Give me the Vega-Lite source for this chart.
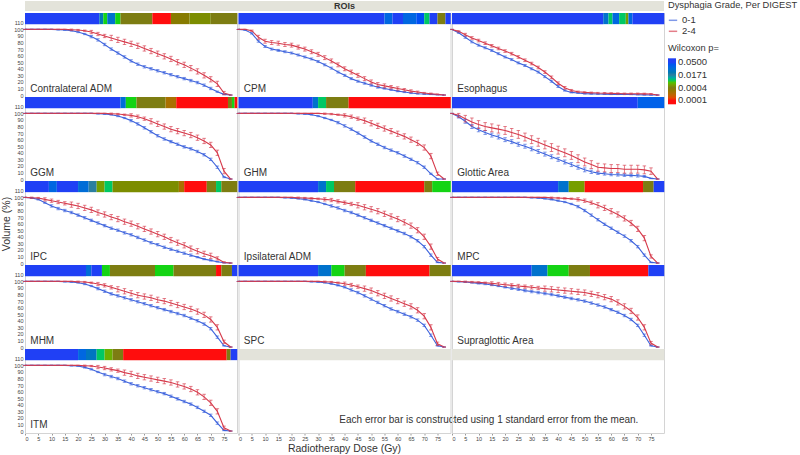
{
 "$schema": "https://vega.github.io/schema/vega-lite/v6.json",
 "padding": {"left": 0, "top": 1, "right": 0, "bottom": 0},
 "config": {
  "font": "Liberation Sans",
  "view": {"stroke": "#d4d4d4"},
  "axis": {"labelFontSize": 5.5, "labelColor": "#444", "labelOverlap": false, "titleFontSize": 10.5, "titleFontWeight": "normal", "titleColor": "#333", "grid": false, "domain": false, "tickColor": "#999", "tickSize": 2},
  "axisX": {"tickCount": 16},
  "axisY": {"tickCount": 12, "ticks": false},
  "legend": {"titleFontSize": 9.3, "titleFontWeight": "normal", "titleColor": "#333", "labelFontSize": 9.5, "labelColor": "#333", "padding": 0, "offset": 3, "labelOverlap": false, "titleLimit": 200, "rowPadding": 1},
  "header": {"labels": false, "title": null, "labelFontSize": 0, "labelPadding": 0},
  "headerFacet": {"labels": false, "title": null, "labelFontSize": 0, "labelPadding": 0},
  "headerColumn": {"labels": false, "title": null, "labelFontSize": 0, "labelPadding": 0}
 },
 "datasets": {
  "main": [
   {"r":"Contralateral ADM","x0":0,"x1":28,"s":3},{"r":"Contralateral ADM","x0":28,"x1":29.5,"s":2.2},{"r":"Contralateral ADM","x0":29.5,"x1":31,"s":1.5},{"r":"Contralateral ADM","x0":31,"x1":34,"s":2.4},{"r":"Contralateral ADM","x0":34,"x1":36,"s":1.5},{"r":"Contralateral ADM","x0":36,"x1":48,"s":1},{"r":"Contralateral ADM","x0":48,"x1":55,"s":0},{"r":"Contralateral ADM","x0":55,"x1":62,"s":0.9},{"r":"Contralateral ADM","x0":62,"x1":70,"s":1.1},{"r":"Contralateral ADM","x0":70,"x1":80,"s":1},
   {"r":"CPM","x0":0,"x1":55,"s":3},{"r":"CPM","x0":55,"x1":58,"s":2.6},{"r":"CPM","x0":58,"x1":62,"s":3},{"r":"CPM","x0":62,"x1":67,"s":2.6},{"r":"CPM","x0":67,"x1":70,"s":2.9},{"r":"CPM","x0":70,"x1":72,"s":1.6},{"r":"CPM","x0":72,"x1":75,"s":3},{"r":"CPM","x0":75,"x1":78,"s":1},{"r":"CPM","x0":78,"x1":80,"s":3},
   {"r":"Esophagus","x0":0,"x1":57,"s":3},{"r":"Esophagus","x0":57,"x1":59,"s":2.4},{"r":"Esophagus","x0":59,"x1":60.5,"s":1.6},{"r":"Esophagus","x0":60.5,"x1":63,"s":2.6},{"r":"Esophagus","x0":63,"x1":65.5,"s":1.6},{"r":"Esophagus","x0":65.5,"x1":66.5,"s":1.2},{"r":"Esophagus","x0":66.5,"x1":68,"s":2.6},{"r":"Esophagus","x0":68,"x1":80,"s":3},
   {"r":"GGM","x0":0,"x1":36,"s":3},{"r":"GGM","x0":36,"x1":38,"s":2.5},{"r":"GGM","x0":38,"x1":42,"s":1.5},{"r":"GGM","x0":42,"x1":53,"s":1},{"r":"GGM","x0":53,"x1":57,"s":0.6},{"r":"GGM","x0":57,"x1":76.5,"s":0},{"r":"GGM","x0":76.5,"x1":78,"s":1},{"r":"GGM","x0":78,"x1":79,"s":1.5},{"r":"GGM","x0":79,"x1":80,"s":0},
   {"r":"GHM","x0":0,"x1":28,"s":3},{"r":"GHM","x0":28,"x1":30,"s":2.4},{"r":"GHM","x0":30,"x1":33,"s":1.6},{"r":"GHM","x0":33,"x1":41.5,"s":1},{"r":"GHM","x0":41.5,"x1":80,"s":0},
   {"r":"Glottic Area","x0":0,"x1":70,"s":3},{"r":"Glottic Area","x0":70,"x1":80,"s":2.7},
   {"r":"IPC","x0":0,"x1":9,"s":3},{"r":"IPC","x0":9,"x1":12,"s":2.6},{"r":"IPC","x0":12,"x1":20,"s":3},{"r":"IPC","x0":20,"x1":24,"s":2.5},{"r":"IPC","x0":24,"x1":27,"s":2},{"r":"IPC","x0":27,"x1":30,"s":1.2},{"r":"IPC","x0":30,"x1":33,"s":1.6},{"r":"IPC","x0":33,"x1":58,"s":1.1},{"r":"IPC","x0":58,"x1":60,"s":0.6},{"r":"IPC","x0":60,"x1":68.5,"s":0},{"r":"IPC","x0":68.5,"x1":72,"s":1},{"r":"IPC","x0":72,"x1":74,"s":1.6},{"r":"IPC","x0":74,"x1":80,"s":1},
   {"r":"Ipsilateral ADM","x0":0,"x1":30,"s":3},{"r":"Ipsilateral ADM","x0":30,"x1":33,"s":2.4},{"r":"Ipsilateral ADM","x0":33,"x1":36,"s":1.6},{"r":"Ipsilateral ADM","x0":36,"x1":44,"s":1},{"r":"Ipsilateral ADM","x0":44,"x1":70,"s":0},{"r":"Ipsilateral ADM","x0":70,"x1":73,"s":1},{"r":"Ipsilateral ADM","x0":73,"x1":80,"s":1.5},
   {"r":"MPC","x0":0,"x1":40,"s":3},{"r":"MPC","x0":40,"x1":44,"s":2.4},{"r":"MPC","x0":44,"x1":50,"s":1.2},{"r":"MPC","x0":50,"x1":72,"s":0},{"r":"MPC","x0":72,"x1":76,"s":1},{"r":"MPC","x0":76,"x1":80,"s":3},
   {"r":"MHM","x0":0,"x1":23,"s":3},{"r":"MHM","x0":23,"x1":25,"s":2.5},{"r":"MHM","x0":25,"x1":29,"s":3},{"r":"MHM","x0":29,"x1":32,"s":1.5},{"r":"MHM","x0":32,"x1":49,"s":1},{"r":"MHM","x0":49,"x1":56,"s":1.5},{"r":"MHM","x0":56,"x1":72,"s":1},{"r":"MHM","x0":72,"x1":74,"s":0},{"r":"MHM","x0":74,"x1":78,"s":1},{"r":"MHM","x0":78,"x1":80,"s":3},
   {"r":"SPC","x0":0,"x1":30,"s":3},{"r":"SPC","x0":30,"x1":35,"s":2.4},{"r":"SPC","x0":35,"x1":40,"s":1.5},{"r":"SPC","x0":40,"x1":48,"s":1},{"r":"SPC","x0":48,"x1":72,"s":0},{"r":"SPC","x0":72,"x1":80,"s":1},
   {"r":"Supraglottic Area","x0":0,"x1":30,"s":3},{"r":"Supraglottic Area","x0":30,"x1":36,"s":2.4},{"r":"Supraglottic Area","x0":36,"x1":44,"s":1.5},{"r":"Supraglottic Area","x0":44,"x1":52,"s":1},{"r":"Supraglottic Area","x0":52,"x1":74,"s":0},{"r":"Supraglottic Area","x0":74,"x1":80,"s":3},
   {"r":"ITM","x0":0,"x1":20,"s":3},{"r":"ITM","x0":20,"x1":23,"s":2.6},{"r":"ITM","x0":23,"x1":27,"s":2.3},{"r":"ITM","x0":27,"x1":30,"s":1.6},{"r":"ITM","x0":30,"x1":33,"s":1.3},{"r":"ITM","x0":33,"x1":37,"s":1},{"r":"ITM","x0":37,"x1":76,"s":0},{"r":"ITM","x0":76,"x1":77.5,"s":1},{"r":"ITM","x0":77.5,"x1":80,"s":3},
   {"r":"_x","g":1},{"r":"_y","g":1},
   {"r":"_x","t":"Each error bar is constructed using 1 standard error from the mean."},

   {"r":"Contralateral ADM","d":0,"a":100,"sa":0,"b":100,"sb":0},{"r":"Contralateral ADM","d":2.5,"a":100,"sa":0,"b":100,"sb":0},{"r":"Contralateral ADM","d":5,"a":100,"sa":0,"b":100,"sb":0},{"r":"Contralateral ADM","d":7.5,"a":100,"sa":0,"b":100,"sb":0},{"r":"Contralateral ADM","d":10,"a":100,"sa":0,"b":100,"sb":0},{"r":"Contralateral ADM","d":12.5,"a":99.5,"sa":0.5,"b":100,"sb":0},{"r":"Contralateral ADM","d":15,"a":99,"sa":0.5,"b":100,"sb":0},{"r":"Contralateral ADM","d":17.5,"a":98,"sa":0.5,"b":99.5,"sb":1},{"r":"Contralateral ADM","d":20,"a":96,"sa":1,"b":99,"sb":1},{"r":"Contralateral ADM","d":22.5,"a":93,"sa":1,"b":98,"sb":1},{"r":"Contralateral ADM","d":25,"a":89,"sa":1.8,"b":96,"sb":2.5},{"r":"Contralateral ADM","d":27.5,"a":84,"sa":1.8,"b":93,"sb":2.5},{"r":"Contralateral ADM","d":30,"a":77,"sa":1.8,"b":90,"sb":2.5},{"r":"Contralateral ADM","d":32.5,"a":70,"sa":1.8,"b":87,"sb":4},{"r":"Contralateral ADM","d":35,"a":64,"sa":1.8,"b":84,"sb":4},{"r":"Contralateral ADM","d":37.5,"a":58,"sa":1.8,"b":81,"sb":4},{"r":"Contralateral ADM","d":40,"a":52,"sa":1.8,"b":78,"sb":4},{"r":"Contralateral ADM","d":42.5,"a":47,"sa":1.8,"b":75,"sb":4},{"r":"Contralateral ADM","d":45,"a":43,"sa":1.8,"b":71,"sb":4},{"r":"Contralateral ADM","d":47.5,"a":40,"sa":1.8,"b":67,"sb":4},{"r":"Contralateral ADM","d":50,"a":37,"sa":1.8,"b":63,"sb":4},{"r":"Contralateral ADM","d":52.5,"a":34,"sa":1.8,"b":59,"sb":4},{"r":"Contralateral ADM","d":55,"a":31,"sa":1.8,"b":55,"sb":4},{"r":"Contralateral ADM","d":57.5,"a":28,"sa":1.8,"b":50,"sb":4},{"r":"Contralateral ADM","d":60,"a":25,"sa":1.8,"b":46,"sb":4},{"r":"Contralateral ADM","d":62.5,"a":22,"sa":1.8,"b":41,"sb":4},{"r":"Contralateral ADM","d":65,"a":19,"sa":1.8,"b":36,"sb":4},{"r":"Contralateral ADM","d":67.5,"a":15,"sa":1.8,"b":30,"sb":4},{"r":"Contralateral ADM","d":70,"a":10,"sa":1.8,"b":24,"sb":4},{"r":"Contralateral ADM","d":72.5,"a":5,"sa":1,"b":17,"sb":4},{"r":"Contralateral ADM","d":75,"a":1,"sa":0.5,"b":3,"sb":2.5},{"r":"Contralateral ADM","d":77.5,"a":0,"sa":0,"b":0,"sb":0},

   {"r":"CPM","d":0,"a":100,"sa":0,"b":100,"sb":0},{"r":"CPM","d":2.5,"a":99,"sa":0.5,"b":100,"sb":0},{"r":"CPM","d":5,"a":94,"sa":1,"b":98,"sb":1},{"r":"CPM","d":7.5,"a":82,"sa":1.5,"b":88,"sb":3},{"r":"CPM","d":10,"a":74,"sa":1.5,"b":82,"sb":3},{"r":"CPM","d":12.5,"a":70,"sa":1.5,"b":80,"sb":3},{"r":"CPM","d":15,"a":68,"sa":1.5,"b":79,"sb":3},{"r":"CPM","d":17.5,"a":66,"sa":1.5,"b":77,"sb":3},{"r":"CPM","d":20,"a":64,"sa":1.5,"b":76,"sb":3},{"r":"CPM","d":22.5,"a":61,"sa":1.5,"b":73,"sb":3},{"r":"CPM","d":25,"a":58,"sa":1.5,"b":70,"sb":3},{"r":"CPM","d":27.5,"a":55,"sa":1.5,"b":66,"sb":3},{"r":"CPM","d":30,"a":51,"sa":1.5,"b":62,"sb":3},{"r":"CPM","d":32.5,"a":46,"sa":1.5,"b":57,"sb":3},{"r":"CPM","d":35,"a":41,"sa":1.5,"b":52,"sb":3},{"r":"CPM","d":37.5,"a":35,"sa":1.5,"b":46,"sb":3},{"r":"CPM","d":40,"a":30,"sa":1.5,"b":40,"sb":3},{"r":"CPM","d":42.5,"a":25,"sa":1.5,"b":35,"sb":3},{"r":"CPM","d":45,"a":21,"sa":1.5,"b":30,"sb":3},{"r":"CPM","d":47.5,"a":18,"sa":1.5,"b":25,"sb":3},{"r":"CPM","d":50,"a":15,"sa":1.5,"b":20,"sb":3},{"r":"CPM","d":52.5,"a":12,"sa":1.5,"b":16,"sb":3},{"r":"CPM","d":55,"a":10,"sa":1,"b":14,"sb":3},{"r":"CPM","d":57.5,"a":8,"sa":1,"b":12,"sb":2.5},{"r":"CPM","d":60,"a":6,"sa":1,"b":10,"sb":2.5},{"r":"CPM","d":62.5,"a":4.5,"sa":0.8,"b":8,"sb":2},{"r":"CPM","d":65,"a":3,"sa":0.8,"b":6,"sb":2},{"r":"CPM","d":67.5,"a":2,"sa":0.5,"b":4.5,"sb":1.5},{"r":"CPM","d":70,"a":1.5,"sa":0.5,"b":3,"sb":1},{"r":"CPM","d":72.5,"a":1,"sa":0.3,"b":2,"sb":1},{"r":"CPM","d":75,"a":0.5,"sa":0.2,"b":1,"sb":0.5},{"r":"CPM","d":77.5,"a":0,"sa":0,"b":0,"sb":0},

   {"r":"Esophagus","d":0,"a":100,"sa":0,"b":100,"sb":0},{"r":"Esophagus","d":2.5,"a":95,"sa":1,"b":97,"sb":1},{"r":"Esophagus","d":5,"a":88,"sa":1.5,"b":92,"sb":2},{"r":"Esophagus","d":7.5,"a":81,"sa":1.5,"b":87,"sb":2},{"r":"Esophagus","d":10,"a":76,"sa":1.5,"b":83,"sb":2},{"r":"Esophagus","d":12.5,"a":72,"sa":1.5,"b":79,"sb":2},{"r":"Esophagus","d":15,"a":68,"sa":1.5,"b":75,"sb":2},{"r":"Esophagus","d":17.5,"a":63,"sa":1.5,"b":71,"sb":2},{"r":"Esophagus","d":20,"a":58,"sa":1.5,"b":67,"sb":2},{"r":"Esophagus","d":22.5,"a":54,"sa":1.5,"b":63,"sb":2},{"r":"Esophagus","d":25,"a":49,"sa":1.5,"b":58,"sb":2},{"r":"Esophagus","d":27.5,"a":45,"sa":1.5,"b":53,"sb":2},{"r":"Esophagus","d":30,"a":40,"sa":1.5,"b":48,"sb":2},{"r":"Esophagus","d":32.5,"a":35,"sa":1.5,"b":42,"sb":2},{"r":"Esophagus","d":35,"a":28,"sa":1.5,"b":35,"sb":2},{"r":"Esophagus","d":37.5,"a":21,"sa":1.5,"b":27,"sb":2},{"r":"Esophagus","d":40,"a":13,"sa":1.5,"b":18,"sb":2},{"r":"Esophagus","d":42.5,"a":7,"sa":1,"b":11,"sb":2},{"r":"Esophagus","d":45,"a":4,"sa":0.8,"b":7,"sb":1.5},{"r":"Esophagus","d":47.5,"a":3,"sa":0.5,"b":5,"sb":1},{"r":"Esophagus","d":50,"a":2,"sa":0.5,"b":4,"sb":1},{"r":"Esophagus","d":52.5,"a":1.8,"sa":0.4,"b":3.5,"sb":1},{"r":"Esophagus","d":55,"a":1.5,"sa":0.4,"b":3,"sb":1},{"r":"Esophagus","d":57.5,"a":1.3,"sa":0.3,"b":2.8,"sb":1},{"r":"Esophagus","d":60,"a":1,"sa":0.3,"b":2.5,"sb":1},{"r":"Esophagus","d":62.5,"a":1,"sa":0.3,"b":2.3,"sb":1},{"r":"Esophagus","d":65,"a":1,"sa":0.3,"b":2,"sb":1},{"r":"Esophagus","d":67.5,"a":0.8,"sa":0.3,"b":2,"sb":1},{"r":"Esophagus","d":70,"a":0.5,"sa":0.2,"b":2,"sb":1},{"r":"Esophagus","d":72.5,"a":0.3,"sa":0.2,"b":1.8,"sb":1},{"r":"Esophagus","d":75,"a":0,"sa":0,"b":1.5,"sb":0.8},{"r":"Esophagus","d":77.5,"a":0,"sa":0,"b":0,"sb":0},

   {"r":"GGM","d":0,"a":100,"sa":0,"b":100,"sb":0},{"r":"GGM","d":2.5,"a":100,"sa":0,"b":100,"sb":0},{"r":"GGM","d":5,"a":100,"sa":0,"b":100,"sb":0},{"r":"GGM","d":7.5,"a":100,"sa":0,"b":100,"sb":0},{"r":"GGM","d":10,"a":100,"sa":0,"b":100,"sb":0},{"r":"GGM","d":12.5,"a":100,"sa":0,"b":100,"sb":0},{"r":"GGM","d":15,"a":100,"sa":0,"b":100,"sb":0},{"r":"GGM","d":17.5,"a":100,"sa":0,"b":100,"sb":0},{"r":"GGM","d":20,"a":100,"sa":0,"b":100,"sb":0},{"r":"GGM","d":22.5,"a":100,"sa":0,"b":100,"sb":0},{"r":"GGM","d":25,"a":100,"sa":0,"b":100,"sb":0},{"r":"GGM","d":27.5,"a":99.5,"sa":0.5,"b":100,"sb":0},{"r":"GGM","d":30,"a":99,"sa":0.5,"b":100,"sb":0},{"r":"GGM","d":32.5,"a":98,"sa":0.5,"b":99.5,"sb":1},{"r":"GGM","d":35,"a":96,"sa":1,"b":99,"sb":1},{"r":"GGM","d":37.5,"a":93,"sa":1,"b":98,"sb":1},{"r":"GGM","d":40,"a":89,"sa":1.8,"b":97,"sb":2.5},{"r":"GGM","d":42.5,"a":84,"sa":1.8,"b":95,"sb":2.5},{"r":"GGM","d":45,"a":78,"sa":1.8,"b":92,"sb":2.5},{"r":"GGM","d":47.5,"a":72,"sa":1.8,"b":88,"sb":4},{"r":"GGM","d":50,"a":66,"sa":1.8,"b":84,"sb":4},{"r":"GGM","d":52.5,"a":61,"sa":1.8,"b":80,"sb":4},{"r":"GGM","d":55,"a":57,"sa":1.8,"b":76,"sb":4},{"r":"GGM","d":57.5,"a":53,"sa":1.8,"b":73,"sb":4},{"r":"GGM","d":60,"a":49,"sa":1.8,"b":70,"sb":4},{"r":"GGM","d":62.5,"a":46,"sa":1.8,"b":67,"sb":4},{"r":"GGM","d":65,"a":42,"sa":1.8,"b":63,"sb":4},{"r":"GGM","d":67.5,"a":37,"sa":1.8,"b":58,"sb":4},{"r":"GGM","d":70,"a":30,"sa":1.8,"b":52,"sb":4},{"r":"GGM","d":72.5,"a":18,"sa":1.8,"b":40,"sb":4},{"r":"GGM","d":75,"a":3,"sa":1,"b":12,"sb":4},{"r":"GGM","d":77.5,"a":0,"sa":0,"b":0,"sb":0},

   {"r":"GHM","d":0,"a":100,"sa":0,"b":100,"sb":0},{"r":"GHM","d":2.5,"a":100,"sa":0,"b":100,"sb":0},{"r":"GHM","d":5,"a":100,"sa":0,"b":100,"sb":0},{"r":"GHM","d":7.5,"a":100,"sa":0,"b":100,"sb":0},{"r":"GHM","d":10,"a":100,"sa":0,"b":100,"sb":0},{"r":"GHM","d":12.5,"a":100,"sa":0,"b":100,"sb":0},{"r":"GHM","d":15,"a":100,"sa":0,"b":100,"sb":0},{"r":"GHM","d":17.5,"a":100,"sa":0,"b":100,"sb":0},{"r":"GHM","d":20,"a":100,"sa":0,"b":100,"sb":0},{"r":"GHM","d":22.5,"a":99.5,"sa":0.5,"b":100,"sb":0},{"r":"GHM","d":25,"a":99,"sa":0.5,"b":100,"sb":0},{"r":"GHM","d":27.5,"a":98,"sa":0.5,"b":100,"sb":0},{"r":"GHM","d":30,"a":96,"sa":1,"b":100,"sb":0},{"r":"GHM","d":32.5,"a":93,"sa":1,"b":99.5,"sb":1},{"r":"GHM","d":35,"a":90,"sa":1,"b":99,"sb":1},{"r":"GHM","d":37.5,"a":86,"sa":1.8,"b":98,"sb":1},{"r":"GHM","d":40,"a":81,"sa":1.8,"b":97,"sb":2.5},{"r":"GHM","d":42.5,"a":76,"sa":1.8,"b":95,"sb":2.5},{"r":"GHM","d":45,"a":70,"sa":1.8,"b":92,"sb":2.5},{"r":"GHM","d":47.5,"a":64,"sa":1.8,"b":89,"sb":4},{"r":"GHM","d":50,"a":58,"sa":1.8,"b":85,"sb":4},{"r":"GHM","d":52.5,"a":53,"sa":1.8,"b":81,"sb":4},{"r":"GHM","d":55,"a":48,"sa":1.8,"b":77,"sb":4},{"r":"GHM","d":57.5,"a":44,"sa":1.8,"b":73,"sb":4},{"r":"GHM","d":60,"a":40,"sa":1.8,"b":69,"sb":4},{"r":"GHM","d":62.5,"a":35,"sa":1.8,"b":65,"sb":4},{"r":"GHM","d":65,"a":30,"sa":1.8,"b":60,"sb":4},{"r":"GHM","d":67.5,"a":25,"sa":1.8,"b":55,"sb":4},{"r":"GHM","d":70,"a":18,"sa":1.8,"b":48,"sb":4},{"r":"GHM","d":72.5,"a":8,"sa":1,"b":35,"sb":4},{"r":"GHM","d":75,"a":0,"sa":0,"b":8,"sb":2.5},{"r":"GHM","d":77.5,"a":0,"sa":0,"b":0,"sb":0},

   {"r":"Glottic Area","d":0,"a":100,"sa":0,"b":100,"sb":0},{"r":"Glottic Area","d":2.5,"a":95,"sa":2,"b":97,"sb":3},{"r":"Glottic Area","d":5,"a":88,"sa":3,"b":92,"sb":5},{"r":"Glottic Area","d":7.5,"a":80,"sa":3,"b":87,"sb":6},{"r":"Glottic Area","d":10,"a":75,"sa":3,"b":83,"sb":6},{"r":"Glottic Area","d":12.5,"a":71,"sa":3,"b":80,"sb":6},{"r":"Glottic Area","d":15,"a":67,"sa":3,"b":78,"sb":6},{"r":"Glottic Area","d":17.5,"a":64,"sa":3,"b":76,"sb":6},{"r":"Glottic Area","d":20,"a":60,"sa":3,"b":74,"sb":6},{"r":"Glottic Area","d":22.5,"a":57,"sa":3,"b":71,"sb":6},{"r":"Glottic Area","d":25,"a":53,"sa":3,"b":68,"sb":6},{"r":"Glottic Area","d":27.5,"a":50,"sa":3,"b":64,"sb":6},{"r":"Glottic Area","d":30,"a":46,"sa":3,"b":60,"sb":6},{"r":"Glottic Area","d":32.5,"a":42,"sa":3,"b":56,"sb":6},{"r":"Glottic Area","d":35,"a":38,"sa":3,"b":52,"sb":6},{"r":"Glottic Area","d":37.5,"a":34,"sa":3,"b":48,"sb":6},{"r":"Glottic Area","d":40,"a":30,"sa":3,"b":44,"sb":6},{"r":"Glottic Area","d":42.5,"a":26,"sa":3,"b":40,"sb":6},{"r":"Glottic Area","d":45,"a":22,"sa":3,"b":36,"sb":6},{"r":"Glottic Area","d":47.5,"a":18,"sa":3,"b":31,"sb":6},{"r":"Glottic Area","d":50,"a":14,"sa":3,"b":26,"sb":6},{"r":"Glottic Area","d":52.5,"a":11,"sa":2.5,"b":22,"sb":6},{"r":"Glottic Area","d":55,"a":9,"sa":2,"b":18,"sb":6},{"r":"Glottic Area","d":57.5,"a":8,"sa":2,"b":17,"sb":6},{"r":"Glottic Area","d":60,"a":7,"sa":2,"b":16,"sb":6},{"r":"Glottic Area","d":62.5,"a":6.5,"sa":2,"b":16,"sb":6},{"r":"Glottic Area","d":65,"a":6,"sa":2,"b":15,"sb":6},{"r":"Glottic Area","d":67.5,"a":5.5,"sa":2,"b":15,"sb":6},{"r":"Glottic Area","d":70,"a":5,"sa":2,"b":15,"sb":6},{"r":"Glottic Area","d":72.5,"a":4,"sa":1.5,"b":14,"sb":6},{"r":"Glottic Area","d":75,"a":1,"sa":0.5,"b":12,"sb":5},{"r":"Glottic Area","d":77.5,"a":0,"sa":0,"b":0,"sb":0},

   {"r":"IPC","d":0,"a":100,"sa":0,"b":100,"sb":0},{"r":"IPC","d":2.5,"a":99,"sa":0.5,"b":99.5,"sb":1},{"r":"IPC","d":5,"a":97,"sa":1,"b":99,"sb":1},{"r":"IPC","d":7.5,"a":92,"sa":1,"b":97,"sb":2.5},{"r":"IPC","d":10,"a":87,"sa":1.8,"b":95,"sb":2.5},{"r":"IPC","d":12.5,"a":83,"sa":1.8,"b":93,"sb":2.5},{"r":"IPC","d":15,"a":80,"sa":1.8,"b":91,"sb":2.5},{"r":"IPC","d":17.5,"a":77,"sa":1.8,"b":89,"sb":4},{"r":"IPC","d":20,"a":73,"sa":1.8,"b":87,"sb":4},{"r":"IPC","d":22.5,"a":69,"sa":1.8,"b":84,"sb":4},{"r":"IPC","d":25,"a":65,"sa":1.8,"b":81,"sb":4},{"r":"IPC","d":27.5,"a":61,"sa":1.8,"b":77,"sb":4},{"r":"IPC","d":30,"a":57,"sa":1.8,"b":74,"sb":4},{"r":"IPC","d":32.5,"a":53,"sa":1.8,"b":70,"sb":4},{"r":"IPC","d":35,"a":50,"sa":1.8,"b":67,"sb":4},{"r":"IPC","d":37.5,"a":46,"sa":1.8,"b":63,"sb":4},{"r":"IPC","d":40,"a":43,"sa":1.8,"b":60,"sb":4},{"r":"IPC","d":42.5,"a":39,"sa":1.8,"b":56,"sb":4},{"r":"IPC","d":45,"a":35,"sa":1.8,"b":52,"sb":4},{"r":"IPC","d":47.5,"a":31,"sa":1.8,"b":48,"sb":4},{"r":"IPC","d":50,"a":28,"sa":1.8,"b":44,"sb":4},{"r":"IPC","d":52.5,"a":24,"sa":1.8,"b":40,"sb":4},{"r":"IPC","d":55,"a":21,"sa":1.8,"b":35,"sb":4},{"r":"IPC","d":57.5,"a":18,"sa":1.8,"b":31,"sb":4},{"r":"IPC","d":60,"a":15,"sa":1.8,"b":27,"sb":4},{"r":"IPC","d":62.5,"a":12,"sa":1.8,"b":22,"sb":4},{"r":"IPC","d":65,"a":9,"sa":1,"b":18,"sb":4},{"r":"IPC","d":67.5,"a":6,"sa":1,"b":14,"sb":4},{"r":"IPC","d":70,"a":4,"sa":1,"b":11,"sb":4},{"r":"IPC","d":72.5,"a":2,"sa":0.5,"b":7,"sb":2.5},{"r":"IPC","d":75,"a":0.5,"sa":0.3,"b":1,"sb":1},{"r":"IPC","d":77.5,"a":0,"sa":0,"b":0,"sb":0},

   {"r":"Ipsilateral ADM","d":0,"a":100,"sa":0,"b":100,"sb":0},{"r":"Ipsilateral ADM","d":2.5,"a":100,"sa":0,"b":100,"sb":0},{"r":"Ipsilateral ADM","d":5,"a":100,"sa":0,"b":100,"sb":0},{"r":"Ipsilateral ADM","d":7.5,"a":100,"sa":0,"b":100,"sb":0},{"r":"Ipsilateral ADM","d":10,"a":100,"sa":0,"b":100,"sb":0},{"r":"Ipsilateral ADM","d":12.5,"a":100,"sa":0,"b":100,"sb":0},{"r":"Ipsilateral ADM","d":15,"a":100,"sa":0,"b":100,"sb":0},{"r":"Ipsilateral ADM","d":17.5,"a":99.5,"sa":0.5,"b":100,"sb":0},{"r":"Ipsilateral ADM","d":20,"a":99,"sa":0.5,"b":100,"sb":0},{"r":"Ipsilateral ADM","d":22.5,"a":98,"sa":0.5,"b":99.5,"sb":1},{"r":"Ipsilateral ADM","d":25,"a":97,"sa":1,"b":99,"sb":1},{"r":"Ipsilateral ADM","d":27.5,"a":95,"sa":1,"b":98.5,"sb":1},{"r":"Ipsilateral ADM","d":30,"a":93,"sa":1,"b":98,"sb":1},{"r":"Ipsilateral ADM","d":32.5,"a":90,"sa":1,"b":97,"sb":2.5},{"r":"Ipsilateral ADM","d":35,"a":87,"sa":1.8,"b":96,"sb":2.5},{"r":"Ipsilateral ADM","d":37.5,"a":84,"sa":1.8,"b":94,"sb":2.5},{"r":"Ipsilateral ADM","d":40,"a":80,"sa":1.8,"b":92,"sb":2.5},{"r":"Ipsilateral ADM","d":42.5,"a":77,"sa":1.8,"b":90,"sb":2.5},{"r":"Ipsilateral ADM","d":45,"a":73,"sa":1.8,"b":88,"sb":4},{"r":"Ipsilateral ADM","d":47.5,"a":69,"sa":1.8,"b":85,"sb":4},{"r":"Ipsilateral ADM","d":50,"a":65,"sa":1.8,"b":82,"sb":4},{"r":"Ipsilateral ADM","d":52.5,"a":61,"sa":1.8,"b":79,"sb":4},{"r":"Ipsilateral ADM","d":55,"a":57,"sa":1.8,"b":75,"sb":4},{"r":"Ipsilateral ADM","d":57.5,"a":53,"sa":1.8,"b":71,"sb":4},{"r":"Ipsilateral ADM","d":60,"a":49,"sa":1.8,"b":67,"sb":4},{"r":"Ipsilateral ADM","d":62.5,"a":45,"sa":1.8,"b":62,"sb":4},{"r":"Ipsilateral ADM","d":65,"a":40,"sa":1.8,"b":57,"sb":4},{"r":"Ipsilateral ADM","d":67.5,"a":34,"sa":1.8,"b":50,"sb":4},{"r":"Ipsilateral ADM","d":70,"a":25,"sa":1.8,"b":40,"sb":4},{"r":"Ipsilateral ADM","d":72.5,"a":12,"sa":1.8,"b":25,"sb":4},{"r":"Ipsilateral ADM","d":75,"a":1,"sa":0.5,"b":6,"sb":2.5},{"r":"Ipsilateral ADM","d":77.5,"a":0,"sa":0,"b":0,"sb":0},

   {"r":"MPC","d":0,"a":100,"sa":0,"b":100,"sb":0},{"r":"MPC","d":2.5,"a":100,"sa":0,"b":100,"sb":0},{"r":"MPC","d":5,"a":100,"sa":0,"b":100,"sb":0},{"r":"MPC","d":7.5,"a":100,"sa":0,"b":100,"sb":0},{"r":"MPC","d":10,"a":100,"sa":0,"b":100,"sb":0},{"r":"MPC","d":12.5,"a":100,"sa":0,"b":100,"sb":0},{"r":"MPC","d":15,"a":100,"sa":0,"b":100,"sb":0},{"r":"MPC","d":17.5,"a":100,"sa":0,"b":100,"sb":0},{"r":"MPC","d":20,"a":100,"sa":0,"b":100,"sb":0},{"r":"MPC","d":22.5,"a":100,"sa":0,"b":100,"sb":0},{"r":"MPC","d":25,"a":100,"sa":0,"b":100,"sb":0},{"r":"MPC","d":27.5,"a":100,"sa":0,"b":100,"sb":0},{"r":"MPC","d":30,"a":99.5,"sa":0.5,"b":100,"sb":0},{"r":"MPC","d":32.5,"a":99,"sa":0.5,"b":100,"sb":0},{"r":"MPC","d":35,"a":98,"sa":0.5,"b":100,"sb":0},{"r":"MPC","d":37.5,"a":97,"sa":1,"b":99.5,"sb":1},{"r":"MPC","d":40,"a":95,"sa":1,"b":99,"sb":1},{"r":"MPC","d":42.5,"a":93,"sa":1,"b":98.5,"sb":1},{"r":"MPC","d":45,"a":90,"sa":1,"b":98,"sb":1},{"r":"MPC","d":47.5,"a":86,"sa":1.8,"b":97,"sb":2.5},{"r":"MPC","d":50,"a":80,"sa":1.8,"b":95,"sb":2.5},{"r":"MPC","d":52.5,"a":73,"sa":1.8,"b":92,"sb":2.5},{"r":"MPC","d":55,"a":66,"sa":1.8,"b":88,"sb":4},{"r":"MPC","d":57.5,"a":59,"sa":1.8,"b":84,"sb":4},{"r":"MPC","d":60,"a":53,"sa":1.8,"b":79,"sb":4},{"r":"MPC","d":62.5,"a":47,"sa":1.8,"b":74,"sb":4},{"r":"MPC","d":65,"a":41,"sa":1.8,"b":68,"sb":4},{"r":"MPC","d":67.5,"a":34,"sa":1.8,"b":61,"sb":4},{"r":"MPC","d":70,"a":25,"sa":1.8,"b":52,"sb":4},{"r":"MPC","d":72.5,"a":12,"sa":1.8,"b":38,"sb":4},{"r":"MPC","d":75,"a":1,"sa":0.5,"b":10,"sb":2.5},{"r":"MPC","d":77.5,"a":0,"sa":0,"b":0,"sb":0},

   {"r":"MHM","d":0,"a":100,"sa":0,"b":100,"sb":0},{"r":"MHM","d":2.5,"a":100,"sa":0,"b":100,"sb":0},{"r":"MHM","d":5,"a":100,"sa":0,"b":100,"sb":0},{"r":"MHM","d":7.5,"a":100,"sa":0,"b":100,"sb":0},{"r":"MHM","d":10,"a":100,"sa":0,"b":100,"sb":0},{"r":"MHM","d":12.5,"a":100,"sa":0,"b":100,"sb":0},{"r":"MHM","d":15,"a":99.5,"sa":0.5,"b":100,"sb":0},{"r":"MHM","d":17.5,"a":99,"sa":0.5,"b":100,"sb":0},{"r":"MHM","d":20,"a":98,"sa":0.5,"b":99.5,"sb":1},{"r":"MHM","d":22.5,"a":96,"sa":1,"b":99,"sb":1},{"r":"MHM","d":25,"a":93,"sa":1,"b":98,"sb":1},{"r":"MHM","d":27.5,"a":89,"sa":1.8,"b":96,"sb":2.5},{"r":"MHM","d":30,"a":85,"sa":1.8,"b":94,"sb":2.5},{"r":"MHM","d":32.5,"a":81,"sa":1.8,"b":91,"sb":2.5},{"r":"MHM","d":35,"a":78,"sa":1.8,"b":88,"sb":4},{"r":"MHM","d":37.5,"a":75,"sa":1.8,"b":85,"sb":4},{"r":"MHM","d":40,"a":72,"sa":1.8,"b":82,"sb":4},{"r":"MHM","d":42.5,"a":69,"sa":1.8,"b":79,"sb":4},{"r":"MHM","d":45,"a":66,"sa":1.8,"b":77,"sb":4},{"r":"MHM","d":47.5,"a":63,"sa":1.8,"b":75,"sb":4},{"r":"MHM","d":50,"a":60,"sa":1.8,"b":72,"sb":4},{"r":"MHM","d":52.5,"a":57,"sa":1.8,"b":70,"sb":4},{"r":"MHM","d":55,"a":54,"sa":1.8,"b":67,"sb":4},{"r":"MHM","d":57.5,"a":51,"sa":1.8,"b":64,"sb":4},{"r":"MHM","d":60,"a":48,"sa":1.8,"b":61,"sb":4},{"r":"MHM","d":62.5,"a":44,"sa":1.8,"b":58,"sb":4},{"r":"MHM","d":65,"a":40,"sa":1.8,"b":54,"sb":4},{"r":"MHM","d":67.5,"a":35,"sa":1.8,"b":49,"sb":4},{"r":"MHM","d":70,"a":28,"sa":1.8,"b":42,"sb":4},{"r":"MHM","d":72.5,"a":15,"sa":1.8,"b":30,"sb":4},{"r":"MHM","d":75,"a":2,"sa":0.5,"b":8,"sb":2.5},{"r":"MHM","d":77.5,"a":0,"sa":0,"b":0,"sb":0},

   {"r":"SPC","d":0,"a":100,"sa":0,"b":100,"sb":0},{"r":"SPC","d":2.5,"a":100,"sa":0,"b":100,"sb":0},{"r":"SPC","d":5,"a":100,"sa":0,"b":100,"sb":0},{"r":"SPC","d":7.5,"a":100,"sa":0,"b":100,"sb":0},{"r":"SPC","d":10,"a":100,"sa":0,"b":100,"sb":0},{"r":"SPC","d":12.5,"a":100,"sa":0,"b":100,"sb":0},{"r":"SPC","d":15,"a":100,"sa":0,"b":100,"sb":0},{"r":"SPC","d":17.5,"a":100,"sa":0,"b":100,"sb":0},{"r":"SPC","d":20,"a":100,"sa":0,"b":100,"sb":0},{"r":"SPC","d":22.5,"a":100,"sa":0,"b":100,"sb":0},{"r":"SPC","d":25,"a":100,"sa":0,"b":100,"sb":0},{"r":"SPC","d":27.5,"a":99.5,"sa":0.5,"b":100,"sb":0},{"r":"SPC","d":30,"a":99,"sa":0.5,"b":100,"sb":0},{"r":"SPC","d":32.5,"a":98,"sa":0.5,"b":99.5,"sb":1},{"r":"SPC","d":35,"a":96.5,"sa":1,"b":99,"sb":1},{"r":"SPC","d":37.5,"a":94,"sa":1,"b":98,"sb":1},{"r":"SPC","d":40,"a":91,"sa":1,"b":96.5,"sb":2.5},{"r":"SPC","d":42.5,"a":87,"sa":1.8,"b":94.5,"sb":2.5},{"r":"SPC","d":45,"a":83,"sa":1.8,"b":92,"sb":2.5},{"r":"SPC","d":47.5,"a":78,"sa":1.8,"b":89,"sb":4},{"r":"SPC","d":50,"a":73,"sa":1.8,"b":86,"sb":4},{"r":"SPC","d":52.5,"a":68,"sa":1.8,"b":82,"sb":4},{"r":"SPC","d":55,"a":63,"sa":1.8,"b":78,"sb":4},{"r":"SPC","d":57.5,"a":58,"sa":1.8,"b":74,"sb":4},{"r":"SPC","d":60,"a":54,"sa":1.8,"b":70,"sb":4},{"r":"SPC","d":62.5,"a":50,"sa":1.8,"b":66,"sb":4},{"r":"SPC","d":65,"a":46,"sa":1.8,"b":62,"sb":4},{"r":"SPC","d":67.5,"a":41,"sa":1.8,"b":56,"sb":4},{"r":"SPC","d":70,"a":33,"sa":1.8,"b":47,"sb":4},{"r":"SPC","d":72.5,"a":18,"sa":1.8,"b":30,"sb":4},{"r":"SPC","d":75,"a":2,"sa":0.5,"b":5,"sb":2.5},{"r":"SPC","d":77.5,"a":0,"sa":0,"b":0,"sb":0},

   {"r":"Supraglottic Area","d":0,"a":100,"sa":0,"b":100,"sb":0},{"r":"Supraglottic Area","d":2.5,"a":99.5,"sa":0.5,"b":100,"sb":0},{"r":"Supraglottic Area","d":5,"a":99,"sa":0.5,"b":99.5,"sb":1},{"r":"Supraglottic Area","d":7.5,"a":98,"sa":0.5,"b":99,"sb":1},{"r":"Supraglottic Area","d":10,"a":97,"sa":1,"b":98.5,"sb":1},{"r":"Supraglottic Area","d":12.5,"a":96,"sa":1,"b":98,"sb":1},{"r":"Supraglottic Area","d":15,"a":94.5,"sa":1,"b":97,"sb":2.5},{"r":"Supraglottic Area","d":17.5,"a":93,"sa":1,"b":96,"sb":2.5},{"r":"Supraglottic Area","d":20,"a":91,"sa":1,"b":95,"sb":2.5},{"r":"Supraglottic Area","d":22.5,"a":89.5,"sa":1.8,"b":94,"sb":2.5},{"r":"Supraglottic Area","d":25,"a":88,"sa":1.8,"b":93,"sb":2.5},{"r":"Supraglottic Area","d":27.5,"a":86,"sa":1.8,"b":92,"sb":2.5},{"r":"Supraglottic Area","d":30,"a":84.5,"sa":1.8,"b":91,"sb":2.5},{"r":"Supraglottic Area","d":32.5,"a":83,"sa":1.8,"b":90,"sb":2.5},{"r":"Supraglottic Area","d":35,"a":81.5,"sa":1.8,"b":89,"sb":4},{"r":"Supraglottic Area","d":37.5,"a":80,"sa":1.8,"b":88,"sb":4},{"r":"Supraglottic Area","d":40,"a":78,"sa":1.8,"b":87,"sb":4},{"r":"Supraglottic Area","d":42.5,"a":76,"sa":1.8,"b":86,"sb":4},{"r":"Supraglottic Area","d":45,"a":74,"sa":1.8,"b":85,"sb":4},{"r":"Supraglottic Area","d":47.5,"a":72,"sa":1.8,"b":84,"sb":4},{"r":"Supraglottic Area","d":50,"a":70,"sa":1.8,"b":83,"sb":4},{"r":"Supraglottic Area","d":52.5,"a":67,"sa":1.8,"b":81,"sb":4},{"r":"Supraglottic Area","d":55,"a":64,"sa":1.8,"b":79,"sb":4},{"r":"Supraglottic Area","d":57.5,"a":61,"sa":1.8,"b":76,"sb":4},{"r":"Supraglottic Area","d":60,"a":57,"sa":1.8,"b":73,"sb":4},{"r":"Supraglottic Area","d":62.5,"a":53,"sa":1.8,"b":68,"sb":4},{"r":"Supraglottic Area","d":65,"a":48,"sa":1.8,"b":62,"sb":4},{"r":"Supraglottic Area","d":67.5,"a":42,"sa":1.8,"b":55,"sb":4},{"r":"Supraglottic Area","d":70,"a":33,"sa":1.8,"b":45,"sb":4},{"r":"Supraglottic Area","d":72.5,"a":18,"sa":1.8,"b":30,"sb":4},{"r":"Supraglottic Area","d":75,"a":2,"sa":0.5,"b":6,"sb":2.5},{"r":"Supraglottic Area","d":77.5,"a":0,"sa":0,"b":0,"sb":0},

   {"r":"ITM","d":0,"a":100,"sa":0,"b":100,"sb":0},{"r":"ITM","d":2.5,"a":100,"sa":0,"b":100,"sb":0},{"r":"ITM","d":5,"a":100,"sa":0,"b":100,"sb":0},{"r":"ITM","d":7.5,"a":100,"sa":0,"b":100,"sb":0},{"r":"ITM","d":10,"a":100,"sa":0,"b":100,"sb":0},{"r":"ITM","d":12.5,"a":100,"sa":0,"b":100,"sb":0},{"r":"ITM","d":15,"a":100,"sa":0,"b":100,"sb":0},{"r":"ITM","d":17.5,"a":99.5,"sa":0.5,"b":100,"sb":0},{"r":"ITM","d":20,"a":99,"sa":0.5,"b":100,"sb":0},{"r":"ITM","d":22.5,"a":97,"sa":1,"b":99.5,"sb":1},{"r":"ITM","d":25,"a":94,"sa":1,"b":99,"sb":1},{"r":"ITM","d":27.5,"a":90,"sa":1,"b":97.5,"sb":2.5},{"r":"ITM","d":30,"a":86,"sa":1.8,"b":96,"sb":2.5},{"r":"ITM","d":32.5,"a":83,"sa":1.8,"b":94,"sb":2.5},{"r":"ITM","d":35,"a":80,"sa":1.8,"b":92,"sb":2.5},{"r":"ITM","d":37.5,"a":76,"sa":1.8,"b":89,"sb":4},{"r":"ITM","d":40,"a":72,"sa":1.8,"b":87,"sb":4},{"r":"ITM","d":42.5,"a":69,"sa":1.8,"b":84,"sb":4},{"r":"ITM","d":45,"a":66,"sa":1.8,"b":82,"sb":4},{"r":"ITM","d":47.5,"a":63,"sa":1.8,"b":80,"sb":4},{"r":"ITM","d":50,"a":60,"sa":1.8,"b":78,"sb":4},{"r":"ITM","d":52.5,"a":57,"sa":1.8,"b":76,"sb":4},{"r":"ITM","d":55,"a":53,"sa":1.8,"b":74,"sb":4},{"r":"ITM","d":57.5,"a":49,"sa":1.8,"b":71,"sb":4},{"r":"ITM","d":60,"a":45,"sa":1.8,"b":68,"sb":4},{"r":"ITM","d":62.5,"a":41,"sa":1.8,"b":64,"sb":4},{"r":"ITM","d":65,"a":36,"sa":1.8,"b":59,"sb":4},{"r":"ITM","d":67.5,"a":30,"sa":1.8,"b":52,"sb":4},{"r":"ITM","d":70,"a":24,"sa":1.8,"b":43,"sb":4},{"r":"ITM","d":72.5,"a":12,"sa":1.8,"b":30,"sb":4},{"r":"ITM","d":75,"a":1,"sa":0.5,"b":5,"sb":2.5},{"r":"ITM","d":77.5,"a":0,"sa":0,"b":0,"sb":0}
  ]
 },
 "hconcat": [
  {
   "width": 13, "height": 446,
   "view": {"stroke": null},
   "data": {"values": [{"t": "Volume (%)"}]},
   "mark": {"type": "text", "angle": 270, "fontSize": 10.5, "color": "#333"},
   "encoding": {"text": {"field": "t"}}
  },
  {
   "vconcat": [
    {
     "width": 639, "height": 10,
     "view": {"fill": "#e3e3da", "stroke": null},
     "data": {"values": [{"t": "ROIs"}]},
     "mark": {"type": "text", "fontSize": 9, "fontWeight": "bold", "color": "#333"},
     "encoding": {"text": {"field": "t"}}
    },
    {
     "data": {"name": "main"},
     "facet": {"field": "r", "type": "nominal", "sort": ["Contralateral ADM","CPM","Esophagus","GGM","GHM","Glottic Area","IPC","Ipsilateral ADM","MPC","MHM","SPC","Supraglottic Area","ITM","_x","_y"], "header": {"labels": false, "title": null, "labelFontSize": 0, "labelPadding": 0, "labelColor": "transparent"}},
     "columns": 3,
     "spacing": {"row": 0, "column": 1.5},
     "bounds": "flush",
     "spec": {
      "width": 212, "height": 84,
      "layer": [
       {
        "transform": [{"filter": "datum.d != null"}],
        "mark": {"type": "line", "strokeWidth": 1.1},
        "encoding": {
         "x": {"field": "d", "type": "quantitative", "title": null, "scale": {"domain": [0, 79.9], "nice": false}, "axis": {"title": null, "values": [0,5,10,15,20,25,30,35,40,45,50,55,60,65,70,75], "tickCount": 16, "labelPadding": 1}},
         "y": {"field": "a", "type": "quantitative", "title": null, "scale": {"domain": [-3, 125], "nice": false, "zero": false}, "axis": {"title": null, "values": [0,10,20,30,40,50,60,70,80,90,100,110], "tickCount": 12, "labelExpr": "datum.value > 110 ? '' : datum.label", "ticks": false, "labelPadding": 2}},
         "color": {"datum": "0-1", "type": "nominal", "scale": {"domain": ["0-1", "2-4"], "range": ["#3d63dd", "#d63a4b"]}, "legend": {"title": "Dysphagia Grade, Per DIGEST", "symbolType": "stroke", "symbolStrokeWidth": 1.5, "symbolSize": 70}}
        }
       },
       {
        "transform": [{"filter": "datum.d != null"}],
        "mark": {"type": "line", "strokeWidth": 1.1},
        "encoding": {
         "x": {"field": "d", "type": "quantitative", "title": null},
         "y": {"field": "b", "type": "quantitative", "title": null},
         "color": {"datum": "2-4", "type": "nominal"}
        }
       },
       {
        "transform": [{"filter": "datum.d != null"}],
        "mark": {"type": "errorbar", "ticks": {"size": 3.5, "opacity": 0.65}, "rule": {"opacity": 0.65}},
        "encoding": {
         "x": {"field": "d", "type": "quantitative", "title": null},
         "y": {"field": "a", "type": "quantitative", "title": null},
         "yError": {"field": "sa"},
         "color": {"datum": "0-1", "type": "nominal"}
        }
       },
       {
        "transform": [{"filter": "datum.d != null"}],
        "mark": {"type": "errorbar", "ticks": {"size": 3.5, "opacity": 0.65}, "rule": {"opacity": 0.65}},
        "encoding": {
         "x": {"field": "d", "type": "quantitative", "title": null},
         "y": {"field": "b", "type": "quantitative", "title": null},
         "yError": {"field": "sb"},
         "color": {"datum": "2-4", "type": "nominal"}
        }
       },
       {
        "transform": [{"filter": "datum.s != null"}],
        "mark": {"type": "rect"},
        "encoding": {
         "x": {"field": "x0", "type": "quantitative", "title": null},
         "x2": {"field": "x1"},
         "y": {"datum": 108, "type": "quantitative", "title": null},
         "y2": {"datum": 125},
         "fill": {"field": "s", "type": "quantitative", "scale": {"domain": [-0.3, 0, 1, 1.5, 2, 3, 3.3], "range": ["#ff0d0d", "#ff0d0d", "#7d7d12", "#14d414", "#2b7fa0", "#2040f5", "#2040f5"]}, "legend": {"title": "Wilcoxon p=", "values": [0, 1, 2, 3], "labelExpr": "datum.value == 3 ? '0.0500' : datum.value == 2 ? '0.0171' : datum.value == 1 ? '0.0004' : '0.0001'", "gradientLength": 46, "gradientThickness": 8}}
        }
       },
       {
        "transform": [{"filter": "datum.g != null"}],
        "mark": {"type": "rect", "color": "#e3e3da"},
        "encoding": {
         "x": {"datum": 0, "type": "quantitative", "title": null},
         "x2": {"datum": 80},
         "y": {"datum": 108, "type": "quantitative", "title": null},
         "y2": {"datum": 125}
        }
       },
       {
        "transform": [{"filter": "datum.d === 0"}],
        "mark": {"type": "text", "align": "left", "baseline": "middle", "fontSize": 10, "color": "#333"},
        "encoding": {
         "x": {"datum": 2, "type": "quantitative"},
         "y": {"datum": 9, "type": "quantitative"},
         "text": {"field": "r"}
        }
       },
       {
        "transform": [{"filter": "datum.t != null"}],
        "mark": {"type": "text", "align": "left", "baseline": "middle", "fontSize": 10, "color": "#333"},
        "encoding": {
         "x": {"datum": 38, "type": "quantitative"},
         "y": {"datum": 17, "type": "quantitative"},
         "text": {"field": "t"}
        }
       }
      ]
     }
    },
    {
     "width": 639, "height": 12,
     "view": {"stroke": null},
     "data": {"values": [{"t": "Radiotherapy Dose (Gy)"}]},
     "mark": {"type": "text", "fontSize": 10.5, "color": "#333"},
     "encoding": {"text": {"field": "t"}}
    }
   ],
   "spacing": 1
  }
 ],
 "spacing": 0
}
